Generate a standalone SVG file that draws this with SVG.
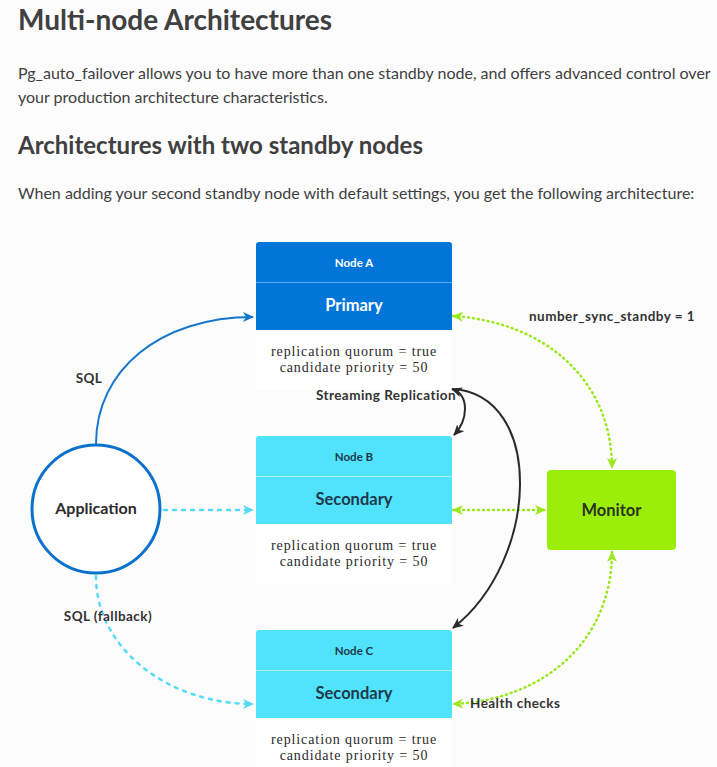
<svg xmlns="http://www.w3.org/2000/svg" width="717" height="767" viewBox="0 0 717 767">
<style>
.doc{font-family:Lato,"Open Sans","Liberation Sans",sans-serif;fill:#404040}
.lbl{font-family:Lato,"Liberation Sans",sans-serif;font-weight:bold;font-size:13.5px;letter-spacing:0.45px;fill:#333}
.prop{font-family:"Liberation Serif","DejaVu Serif",serif;font-size:14px;letter-spacing:0.9px;fill:#2a2a2a;text-anchor:middle}
.hdr{font-family:Lato,"Liberation Sans",sans-serif;font-weight:bold;font-size:11.5px;text-anchor:middle}
.role{font-family:Lato,"Liberation Sans",sans-serif;font-weight:bold;font-size:16.5px;text-anchor:middle}
.blue{fill:none;stroke:#1577cc;stroke-width:2}
.cyan{fill:none;stroke:#55dbf5;stroke-width:2.5;stroke-dasharray:3 6;stroke-linecap:round}
.green{fill:none;stroke:#99e81a;stroke-width:2.5;stroke-dasharray:1 4;stroke-linecap:round}
.black{fill:none;stroke:#2b2b2b;stroke-width:2}
</style>
<defs>
<marker id="mBlue" markerWidth="12" markerHeight="10" refX="10" refY="5" orient="auto" markerUnits="userSpaceOnUse"><path d="M0,0 L11,5 L0,10 L3,5 z" fill="#1577cc"/></marker>
<marker id="mCyan" markerWidth="12" markerHeight="10" refX="10" refY="5" orient="auto" markerUnits="userSpaceOnUse"><path d="M0,0 L11,5 L0,10 L3,5 z" fill="#55dbf5"/></marker>
<marker id="mGreen" markerWidth="12" markerHeight="10" refX="10" refY="5" orient="auto-start-reverse" markerUnits="userSpaceOnUse"><path d="M0,0 L11,5 L0,10 L3,5 z" fill="#99e81a"/></marker>
<marker id="mBlack" markerWidth="12" markerHeight="10" refX="10" refY="5" orient="auto-start-reverse" markerUnits="userSpaceOnUse"><path d="M0,0 L11,5 L0,10 L3,5 z" fill="#2b2b2b"/></marker>
</defs>
<rect width="717" height="767" fill="#fcfcfc"/>
<g id="page-text">
<text class="doc" x="18" y="30" font-size="28" font-weight="bold">Multi-node Architectures</text>
<text class="doc" x="18" y="79" font-size="16">Pg_auto_failover allows you to have more than one standby node, and offers advanced control over</text>
<text class="doc" x="18" y="103" font-size="16">your production architecture characteristics.</text>
<text class="doc" x="18" y="154" font-size="24" font-weight="bold">Architectures with two standby nodes</text>
<text class="doc" x="18" y="199" font-size="16">When adding your second standby node with default settings, you get the following architecture:</text>
</g>
<g id="nodeA">
<rect x="256" y="242" width="196" height="148" fill="#ffffff"/>
<path d="M256,330 V245 a3,3 0 0 1 3,-3 H449 a3,3 0 0 1 3,3 V330 z" fill="#0275d8"/>
<line x1="256" y1="282.5" x2="452" y2="282.5" stroke="#5aa8ec" stroke-width="1"/>
<text class="hdr" x="354" y="267" fill="#ffffff">Node A</text>
<text class="role" x="354" y="311" fill="#ffffff">Primary</text>
<text class="prop" x="354" y="356">replication quorum = true</text>
<text class="prop" x="354" y="372">candidate priority = 50</text>
</g>
<g id="nodeB">
<rect x="256" y="436" width="196" height="148" fill="#ffffff"/>
<path d="M256,524 V439 a3,3 0 0 1 3,-3 H449 a3,3 0 0 1 3,3 V524 z" fill="#52e3fc"/>
<line x1="256" y1="476.5" x2="452" y2="476.5" stroke="#a9f1fd" stroke-width="1"/>
<text class="hdr" x="354" y="461" fill="#1d3a4c">Node B</text>
<text class="role" x="354" y="505" fill="#1d3a4c">Secondary</text>
<text class="prop" x="354" y="550">replication quorum = true</text>
<text class="prop" x="354" y="566">candidate priority = 50</text>
</g>
<g id="nodeC">
<rect x="256" y="630" width="196" height="148" fill="#ffffff"/>
<path d="M256,718 V633 a3,3 0 0 1 3,-3 H449 a3,3 0 0 1 3,3 V718 z" fill="#52e3fc"/>
<line x1="256" y1="670.5" x2="452" y2="670.5" stroke="#a9f1fd" stroke-width="1"/>
<text class="hdr" x="354" y="655" fill="#1d3a4c">Node C</text>
<text class="role" x="354" y="699" fill="#1d3a4c">Secondary</text>
<text class="prop" x="354" y="744">replication quorum = true</text>
<text class="prop" x="354" y="760">candidate priority = 50</text>
</g>
<g id="application">
<circle cx="96" cy="509" r="64" fill="#ffffff" stroke="#0a72cc" stroke-width="3"/>
<text x="96" y="514" text-anchor="middle" font-family="Lato,'Liberation Sans',sans-serif" font-weight="bold" font-size="16" fill="#2b2b2b">Application</text>
</g>
<g id="monitor">
<rect x="547" y="470" width="129" height="80" rx="4" fill="#9aee0a"/>
<text x="611.5" y="515.5" text-anchor="middle" font-family="Lato,'Liberation Sans',sans-serif" font-weight="bold" font-size="16.5" fill="#2b3320">Monitor</text>
</g>
<g id="connectors">
<path class="blue" d="M96,444 C96,370 160,317 253,317" marker-end="url(#mBlue)"/>
<path class="cyan" d="M164,510 L253,510" marker-end="url(#mCyan)"/>
<path class="cyan" d="M96,576 C96,650 170,704 253,704" stroke-dasharray="1 6" marker-end="url(#mCyan)"/>
<path class="green" d="M453,316 C545,322 612,380 612,468" marker-start="url(#mGreen)" marker-end="url(#mGreen)"/>
<path class="green" d="M453,510 L545,510" marker-start="url(#mGreen)" marker-end="url(#mGreen)"/>
<path class="green" d="M612,552 C612,640 545,700 453,704" marker-start="url(#mGreen)" marker-end="url(#mGreen)"/>
<path class="black" d="M452,389 C470,395 468,420 454,435" marker-start="url(#mBlack)" marker-end="url(#mBlack)"/>
<path class="black" d="M452,389 C545,394 540,560 453,628" marker-end="url(#mBlack)"/>
</g>
<g id="labels">
<text class="lbl" x="89" y="383" text-anchor="middle">SQL</text>
<text class="lbl" x="108" y="621" text-anchor="middle">SQL (fallback)</text>
<text class="lbl" x="386" y="400" text-anchor="middle">Streaming Replication</text>
<text class="lbl" x="612" y="321" text-anchor="middle">number_sync_standby = 1</text>
<text class="lbl" x="470" y="708">Health checks</text>
</g>
</svg>
